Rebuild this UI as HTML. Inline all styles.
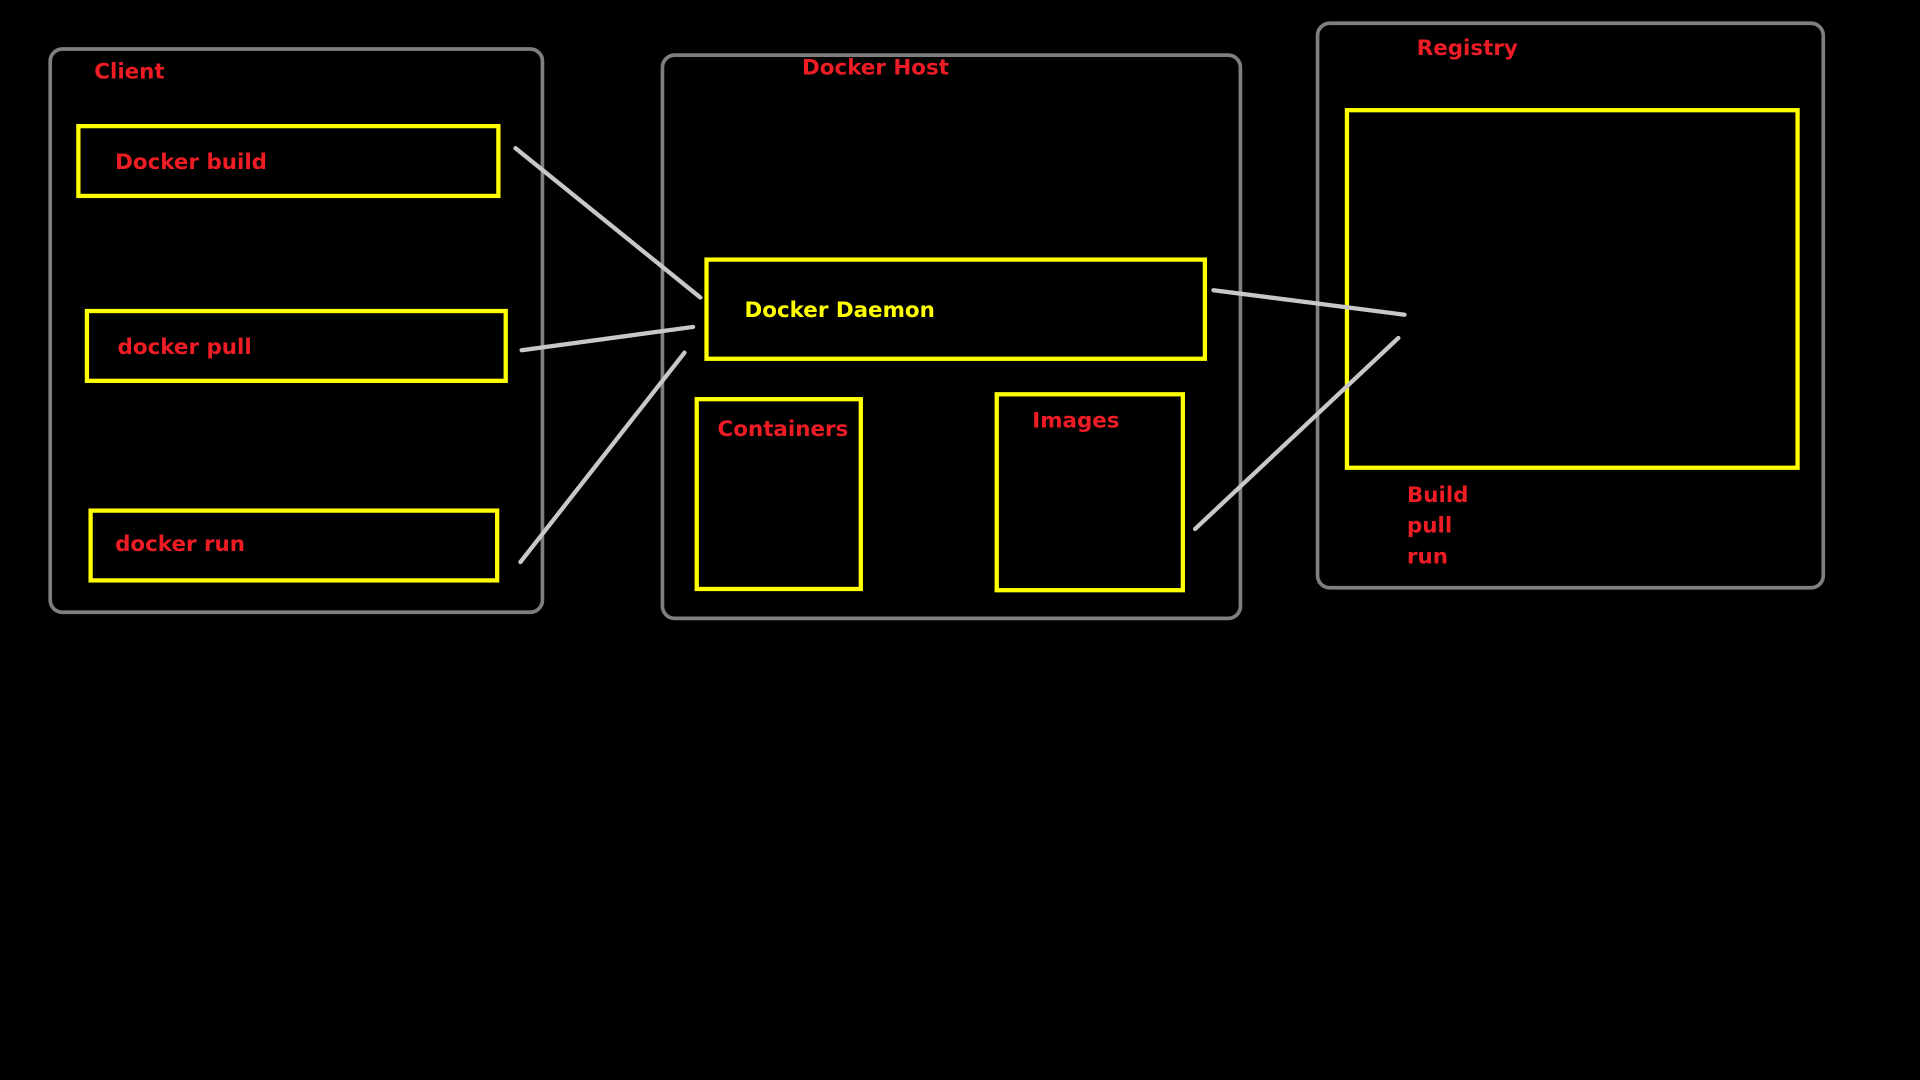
<!DOCTYPE html>
<html><head><meta charset="utf-8"><style>
html,body{margin:0;padding:0;background:#000;width:1920px;height:1080px;overflow:hidden}
svg{display:block}
text{font-family:"DejaVu Sans","Liberation Sans",sans-serif;font-weight:bold;font-size:17.5px;fill:#ee1c24}
</style></head><body>
<svg width="1920" height="1080" viewBox="0 0 1568 882" xmlns="http://www.w3.org/2000/svg">
<rect width="1568" height="882" fill="#000"/>
<g fill="none" stroke="#7f7f7f" stroke-width="3">
<rect x="41" y="40" width="402" height="460" rx="10"/>
<rect x="541" y="45" width="472" height="460" rx="10"/>
<rect x="1076" y="19" width="413" height="461" rx="10"/>
</g>
<g fill="none" stroke="#ffff00" stroke-width="3.5">
<rect x="64" y="103" width="343" height="57"/>
<rect x="71" y="254" width="342" height="57"/>
<rect x="74" y="417" width="332" height="57"/>
<rect x="577" y="212" width="407" height="81"/>
<rect x="569" y="326" width="134" height="155"/>
<rect x="814" y="322" width="152" height="160"/>
<rect x="1100" y="90" width="368" height="292"/>
</g>
<g stroke="#c8c8c8" stroke-width="3.5" stroke-linecap="round">
<line x1="421" y1="121" x2="572" y2="243"/>
<line x1="426" y1="286" x2="566" y2="267"/>
<line x1="425" y1="459" x2="559" y2="288"/>
<line x1="991" y1="237" x2="1147" y2="257"/>
<line x1="976" y1="432" x2="1142" y2="276"/>
</g>
<text x="77" y="64">Client</text>
<text x="655" y="61">Docker Host</text>
<text x="1157" y="45">Registry</text>
<text x="94" y="138">Docker build</text>
<text x="96" y="289">docker pull</text>
<text x="94" y="450">docker run</text>
<text x="608" y="259" style="fill:#ffff00">Docker Daemon</text>
<text x="586" y="356">Containers</text>
<text x="843" y="349">Images</text>
<text x="1149" y="410">Build</text>
<text x="1149" y="435">pull</text>
<text x="1149" y="460">run</text>
</svg>
</body></html>
